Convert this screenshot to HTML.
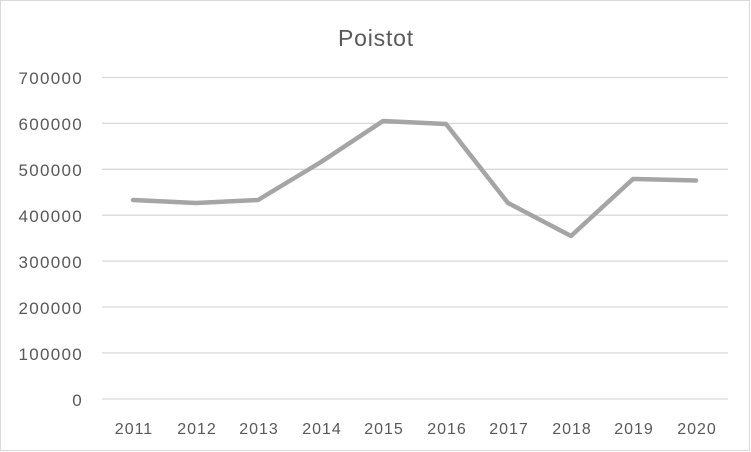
<!DOCTYPE html>
<html><head><meta charset="utf-8"><style>
html,body{margin:0;padding:0;background:#fff;}
svg{display:block;}
text{font-family:"Liberation Sans",sans-serif;fill:#595959;}
</style></head><body>
<svg width="751" height="452" viewBox="0 0 751 452" xmlns="http://www.w3.org/2000/svg">
<rect x="0.5" y="0.5" width="749" height="450" fill="#fff" stroke="#d9d9d9" stroke-width="1"/>
<text x="376" y="46" font-size="23" letter-spacing="0.8" text-anchor="middle">Poistot</text>
<g stroke="#d9d9d9" stroke-width="1.3">
<line x1="102" x2="728" y1="77.5" y2="77.5"/>
<line x1="102" x2="728" y1="123.4" y2="123.4"/>
<line x1="102" x2="728" y1="169.3" y2="169.3"/>
<line x1="102" x2="728" y1="215.2" y2="215.2"/>
<line x1="102" x2="728" y1="261.1" y2="261.1"/>
<line x1="102" x2="728" y1="307" y2="307"/>
<line x1="102" x2="728" y1="352.9" y2="352.9"/>
<line x1="102" x2="728" y1="399" y2="399"/>
</g>
<g font-size="17" letter-spacing="1.3" text-anchor="end">
<text x="83" y="84">700000</text>
<text x="83" y="130">600000</text>
<text x="83" y="176">500000</text>
<text x="83" y="222">400000</text>
<text x="83" y="268">300000</text>
<text x="83" y="314">200000</text>
<text x="83" y="360">100000</text>
<text x="83" y="406">0</text>
</g>
<g font-size="16" letter-spacing="1" text-anchor="middle">
<text x="134" y="434">2011</text>
<text x="197" y="434">2012</text>
<text x="259" y="434">2013</text>
<text x="322" y="434">2014</text>
<text x="384" y="434">2015</text>
<text x="447" y="434">2016</text>
<text x="509" y="434">2017</text>
<text x="572" y="434">2018</text>
<text x="634" y="434">2019</text>
<text x="697" y="434">2020</text>
</g>
<polyline fill="none" stroke="#a5a5a5" stroke-width="4.5" stroke-linejoin="round" stroke-linecap="round"
points="133,200 196,203 258,200 321,162 383,121 446,124 508,203 571,236 633,179 696,180.5"/>
</svg>
</body></html>
